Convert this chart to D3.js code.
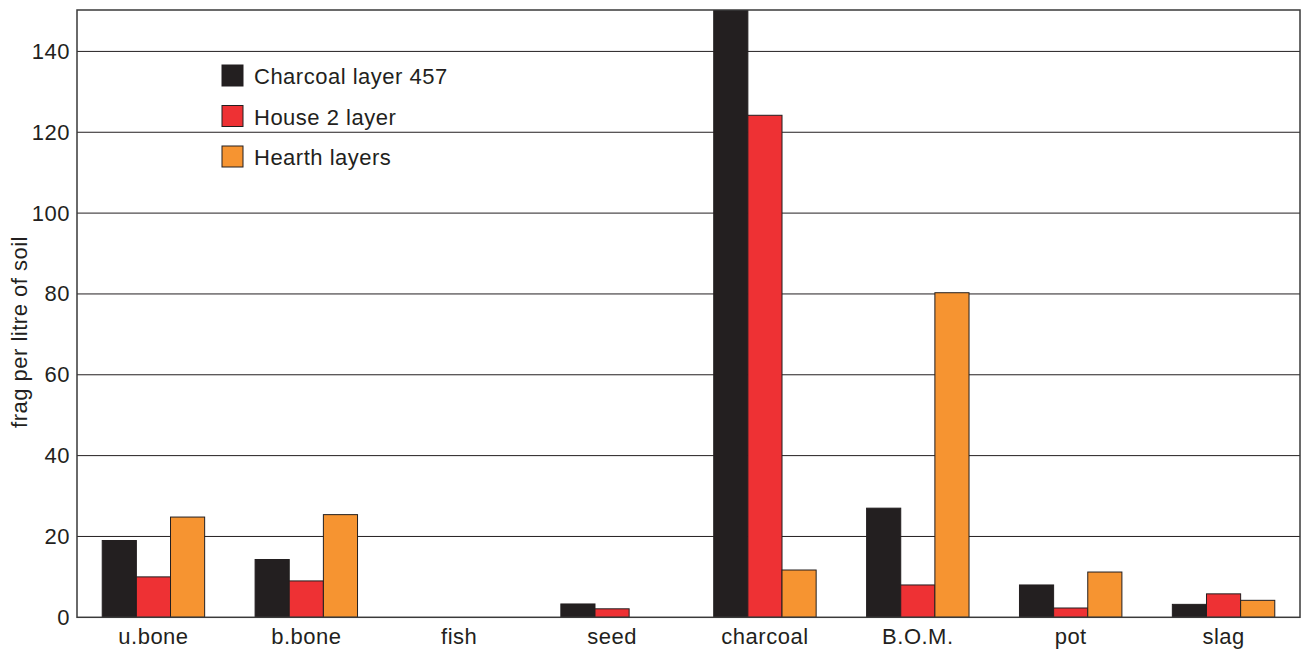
<!DOCTYPE html>
<html><head><meta charset="utf-8">
<script src="https://cdn.jsdelivr.net/npm/d3@7"></script>
<style>body{margin:0;background:#fff}svg{display:block}text{font-family:"Liberation Sans",Arial,sans-serif;fill:#231f20;letter-spacing:0.5px}</style>
</head><body>
<svg id="c" width="1304" height="651"></svg>
<script>
const categories = ["u.bone","b.bone","fish","seed","charcoal","B.O.M.","pot","slag"];
const seriesNames = ["Charcoal layer 457","House 2 layer","Hearth layers"];
const charcoal457 = [19, 14.3, 0, 3.3, 165, 27, 8, 3.2];
const house2 = [10, 9, 0, 2.1, 124.2, 8, 2.3, 5.8];
const hearth = [24.8, 25.4, 0, 0, 11.7, 80.3, 11.2, 4.2];
const yTicks = [0,20,40,60,80,100,120,140];
const colors = ["#231f20","#ee3134","#f69431"];

const series = [charcoal457, house2, hearth];
const m = {l:77, r:1300, t:11, b:617.3};
const svg = d3.select("#c");
const x = d3.scaleBand().domain(categories).range([m.l, m.r]).paddingInner(0.33).paddingOuter(0.165);
const xs = d3.scaleBand().domain(d3.range(3)).range([0, x.bandwidth()]);
const y = d3.scaleLinear().domain([0,150]).range([m.b, m.t]);

svg.append("defs").append("clipPath").attr("id","clip").append("rect")
  .attr("x",m.l).attr("y",m.t-1).attr("width",m.r-m.l).attr("height",m.b-m.t+1);

// gridlines
svg.append("g").selectAll("line").data(yTicks.filter(d=>d>0)).join("line")
  .attr("x1",m.l).attr("x2",m.r).attr("y1",d=>y(d)).attr("y2",d=>y(d))
  .attr("stroke","#231f20").attr("stroke-width",1);

// bars
const g = svg.append("g").attr("clip-path","url(#clip)");
categories.forEach((c,i)=>{
  series.forEach((s,k)=>{
    if (s[i] <= 0) return;
    g.append("rect").attr("x", x(c)+xs(k)).attr("width", xs.bandwidth())
      .attr("y", y(s[i])).attr("height", y(0)-y(s[i]))
      .attr("fill", colors[k]).attr("stroke","#231f20").attr("stroke-width",1);
  });
});

// frame
svg.append("rect").attr("x",m.l).attr("y",m.t-1).attr("width",m.r-m.l).attr("height",m.b-m.t+1)
  .attr("fill","none").attr("stroke","#3a3a3a").attr("stroke-width",1.5);

// y axis labels
const ya = d3.axisLeft(y).tickValues(yTicks).tickSize(0).tickPadding(7);
const yg = svg.append("g").attr("transform",`translate(${m.l},0)`).call(ya);
yg.select(".domain").remove();
yg.selectAll("text").attr("font-size",22).style("font-family","Liberation Sans, Arial, sans-serif").attr("fill","#231f20");

// x axis labels
const xa = d3.axisBottom(x).tickSize(0).tickPadding(11);
const xg = svg.append("g").attr("transform",`translate(0,${m.b})`).call(xa);
xg.select(".domain").remove();
xg.selectAll("text").attr("font-size",22).style("font-family","Liberation Sans, Arial, sans-serif").attr("fill","#231f20");

// y title
svg.append("text").attr("transform",`translate(27,${332}) rotate(-90)`)
  .attr("text-anchor","middle").attr("font-size",22).text("frag per litre of soil");

// legend
const lg = svg.append("g").attr("transform","translate(222,65)");
seriesNames.forEach((n,k)=>{
  const row = lg.append("g").attr("transform",`translate(0,${k*40.5})`);
  row.append("rect").attr("width",21).attr("height",21).attr("fill",colors[k]).attr("stroke","#231f20").attr("stroke-width",1);
  row.append("text").attr("x",32).attr("y",19).attr("font-size",22).text(n);
});
</script>
</body></html>
